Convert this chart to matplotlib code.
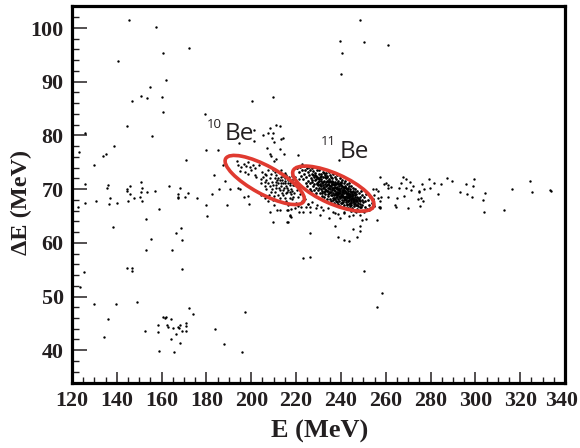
"""Delta-E versus E scatter with the 10Be and 11Be gates."""
import matplotlib
matplotlib.use("Agg")
import matplotlib.pyplot as plt
import numpy as np
from matplotlib.patches import Ellipse
from matplotlib.transforms import Affine2D

x_ticks = [120, 140, 160, 180, 200, 220, 240, 260, 280, 300, 320, 340]
y_ticks = [40, 50, 60, 70, 80, 90, 100]

# scattered events away from the two loci as (E, dE)
background = [
    (145.4, 101.5), (157.6, 100.2), (172.4, 96.3), (160.7, 95.3), (140.6, 93.9), (162.0, 90.3),
    (155.0, 89.0), (150.7, 87.3), (153.4, 87.0), (160.1, 87.2), (146.7, 86.5), (160.7, 84.3),
    (179.2, 83.9), (144.5, 81.8), (155.5, 79.8), (125.8, 80.4), (138.7, 78.0), (123.3, 76.9),
    (135.1, 76.5), (133.9, 76.1), (170.8, 75.4), (129.7, 74.5), (180.0, 77.2), (185.3, 77.2),
    (194.4, 78.5), (190.4, 76.3), (187.6, 74.5), (183.3, 72.6), (188.1, 71.6), (125.8, 70.9),
    (136.0, 70.8), (135.6, 70.2), (145.8, 70.6), (144.4, 70.0), (150.7, 71.3), (151.3, 70.2),
    (163.1, 70.5), (168.4, 70.2), (185.8, 70.0), (190.5, 70.1), (144.4, 69.7), (146.1, 69.0),
    (147.5, 68.4), (150.4, 68.5), (150.9, 69.5), (153.4, 69.5), (157.1, 69.6), (167.1, 69.0),
    (167.2, 68.6), (167.4, 68.3), (170.5, 68.6), (171.8, 69.2), (176.0, 68.3), (182.5, 69.0),
    (136.9, 68.3), (130.7, 67.7), (125.8, 67.4), (122.8, 66.7), (136.6, 67.2), (140.0, 67.4),
    (144.8, 67.8), (151.2, 67.7), (158.9, 66.3), (179.7, 67.0), (189.0, 67.0), (180.4, 65.0),
    (153.0, 64.5), (138.1, 62.9), (168.6, 62.7), (166.6, 61.8), (155.3, 60.8), (169.0, 60.5),
    (152.8, 58.7), (164.7, 58.7), (125.5, 54.6), (144.6, 55.3), (146.7, 55.4), (146.9, 54.7),
    (169.1, 55.1), (123.4, 51.8), (129.8, 48.6), (139.5, 48.7), (149.1, 49.0), (172.0, 47.9),
    (174.2, 46.8), (136.0, 45.8), (160.7, 46.2), (161.4, 46.0), (161.9, 46.2), (164.1, 45.8),
    (158.4, 44.7), (162.3, 44.7), (162.9, 44.3), (165.1, 44.2), (167.4, 44.3), (167.8, 44.1),
    (168.2, 44.7), (170.8, 45.1), (170.8, 44.5), (168.9, 43.6), (170.9, 43.5), (152.4, 43.6),
    (158.4, 43.4), (166.2, 43.1), (184.0, 44.0), (134.4, 42.5), (164.1, 42.0), (168.2, 41.4),
    (187.7, 41.2), (158.9, 39.8), (165.3, 39.6), (195.9, 39.7), (197.3, 47.1),
    (248.3, 101.5), (239.7, 97.6), (250.2, 97.4), (260.9, 96.8), (240.7, 95.4), (240.1, 91.5),
    (200.5, 86.5), (209.7, 87.2), (220.8, 76.3), (239.1, 75.4), (250.5, 54.8), (258.4, 50.6),
    (256.0, 48.1), (223.0, 57.1), (226.0, 57.4), (226.2, 61.8),
    (257.5, 72.3), (267.6, 72.2), (269.2, 71.8), (270.7, 71.4), (266.9, 71.1), (259.4, 71.0),
    (260.2, 71.1), (260.9, 70.8), (262.4, 70.4), (261.2, 70.3), (266.1, 70.3), (269.1, 70.2),
    (272.0, 70.5), (271.1, 69.8), (276.2, 70.9), (277.2, 70.1), (275.0, 69.6), (274.9, 69.4),
    (279.5, 71.8), (281.4, 71.2), (279.9, 70.3), (284.7, 70.9), (287.2, 72.1), (289.4, 71.5),
    (283.3, 69.0), (293.3, 69.5), (295.9, 71.0), (299.4, 71.8), (298.9, 70.5), (296.3, 69.0),
    (298.3, 68.5), (304.3, 69.3), (303.4, 68.0), (303.7, 65.7), (313.0, 66.2), (316.4, 70.1),
    (324.2, 71.5), (325.2, 69.5), (333.4, 69.9), (333.8, 69.6), (260.8, 68.6), (268.0, 68.8),
    (265.1, 68.4), (257.5, 67.7), (257.5, 66.6), (264.2, 67.1), (264.6, 66.7), (270.1, 66.5),
    (274.3, 68.2), (275.6, 68.3), (276.8, 67.7), (275.1, 66.9),
    (254.2, 70.0), (255.7, 70.1), (256.5, 69.6), (254.7, 68.9), (258.0, 68.6), (256.5, 68.3),
    (256.9, 66.7), (257.6, 66.4), (222.6, 74.6),
    (251.0, 64.5), (255.9, 64.2), (249.3, 64.2), (248.7, 63.2), (237.2, 63.2), (245.6, 62.6),
    (238.6, 61.1), (241.3, 60.5), (243.5, 60.3), (247.1, 61.1), (248.3, 62.2), (216.4, 63.9),
    (221.1, 65.8), (217.1, 65.0), (226.0, 65.8), (230.5, 65.2), (234.9, 64.7), (237.2, 65.5),
    (239.4, 64.7), (241.3, 65.5), (245.3, 65.2), (248.7, 65.2), (223.0, 65.8), (232.0, 66.1),
    (238.6, 65.3), (243.8, 65.0), (225.3, 67.3), (224.5, 66.7), (229.0, 66.5), (231.2, 66.7),
    (234.2, 66.4), (236.4, 65.8), (241.6, 65.8), (246.8, 65.7), (250.5, 65.8), (252.7, 66.1),
    (216.4, 66.1), (219.3, 66.4), (222.3, 66.7), (226.0, 66.7), (216.4, 67.0), (253.8, 66.4),
]

# events around and inside the 10Be gate
be10 = [
    (201.1, 81.0), (201.4, 79.0), (208.2, 81.3), (210.9, 81.9), (212.8, 81.8), (205.2, 80.1),
    (207.5, 80.4), (209.7, 80.4), (209.4, 79.5), (210.0, 78.7), (213.4, 79.3), (214.1, 79.5),
    (207.2, 77.6), (212.9, 77.4), (214.4, 76.6), (208.2, 76.5), (209.0, 76.2), (211.2, 75.7),
    (210.1, 75.2), (194.1, 70.3), (195.1, 70.0), (196.9, 68.6), (198.7, 68.8), (204.3, 68.9),
    (198.8, 67.2), (193.6, 75.3), (194.1, 74.5), (196.8, 74.7), (195.6, 74.2), (197.5, 74.3),
    (198.5, 75.1), (194.8, 73.4), (199.3, 74.2), (200.0, 73.6), (200.8, 74.5), (201.8, 73.9),
    (203.3, 74.5), (198.5, 72.9), (197.0, 73.2), (201.8, 72.7), (202.3, 72.3), (204.8, 73.2),
    (206.0, 72.9), (205.2, 72.3), (206.7, 72.6), (206.7, 71.7), (204.5, 71.8), (204.2, 71.1),
    (207.5, 71.1), (206.0, 70.6), (208.2, 70.5), (206.7, 70.0), (209.2, 70.0), (210.4, 69.5),
    (208.6, 69.4), (209.2, 71.4), (210.4, 72.0), (211.2, 72.7), (211.9, 72.1), (212.7, 73.0),
    (213.4, 73.6), (214.1, 72.5), (211.9, 71.1), (212.7, 71.7), (213.8, 71.7), (214.9, 72.0),
    (215.6, 72.6), (216.4, 71.7), (214.9, 71.1), (213.4, 70.6), (215.6, 70.6), (217.1, 70.8),
    (211.2, 70.3), (212.6, 69.8), (214.1, 69.8), (216.4, 69.8), (217.8, 70.0), (209.7, 73.6),
    (210.4, 73.1), (207.5, 73.6), (208.2, 72.1), (209.7, 70.8), (211.6, 71.7), (214.1, 71.1),
    (217.8, 71.4), (216.4, 71.1), (218.6, 70.8), (214.9, 73.0), (213.1, 72.3), (211.2, 70.8),
    (206.0, 71.4), (207.7, 68.9), (210.1, 68.7), (211.9, 68.9), (214.1, 68.9), (215.6, 69.2),
    (217.8, 69.0), (206.0, 68.3), (209.7, 68.0), (212.7, 68.3), (214.9, 68.3), (217.1, 68.3),
    (207.5, 67.8), (210.1, 67.0), (215.6, 67.8), (218.6, 68.6), (211.5, 66.2), (213.0, 66.1),
    (208.2, 65.8), (215.9, 66.1), (217.6, 66.3), (217.4, 65.2), (217.6, 64.9), (209.7, 63.8),
    (216.1, 63.8), (218.5, 71.9), (219.2, 70.7), (219.8, 71.4), (220.3, 69.9), (219.0, 69.3),
    (220.8, 68.6), (221.2, 70.4), (221.9, 69.0), (222.5, 67.8), (218.2, 68.2), (220.0, 67.5),
    (224.0, 68.2), (225.5, 67.3), (227.3, 67.6), (229.5, 67.0), (221.0, 66.9),
    (215.2, 71.5), (216.9, 72.2), (217.4, 71.1), (218.0, 72.4), (215.9, 69.5), (213.1, 71.2),
    (212.2, 70.2), (216.0, 70.2), (218.3, 69.6), (214.5, 70.3), (219.6, 72.2), (220.6, 71.2),
    (217.2, 69.4), (210.9, 71.4), (213.5, 69.2), (208.9, 72.8), (221.4, 71.9), (215.0, 72.6),
]

# the dense 11Be locus; the core is nearly solid, so these are estimates
be11 = [
    (220.6, 73.9), (221.2, 73.1), (221.9, 74.2), (222.3, 72.4), (222.8, 73.6), (223.1, 71.9),
    (223.4, 74.3), (223.7, 72.9), (224.0, 73.5), (224.2, 71.2), (224.6, 72.3), (224.9, 74.0),
    (225.0, 70.6), (225.2, 73.2), (225.4, 71.6), (225.6, 72.7), (225.9, 74.2), (226.1, 70.1),
    (226.2, 71.1), (226.4, 73.5), (226.6, 72.1), (226.8, 69.6), (227.0, 72.9), (227.1, 71.4),
    (227.3, 74.0), (227.5, 70.5), (227.7, 73.4), (227.8, 72.2), (228.0, 69.9), (228.1, 71.0),
    (228.3, 73.0), (228.4, 71.7), (228.6, 74.1), (228.8, 70.3), (229.0, 72.5), (229.1, 69.3),
    (229.3, 71.2), (229.4, 73.5), (229.6, 70.7), (229.7, 72.0), (229.9, 69.8), (230.0, 72.9),
    (230.1, 71.5), (230.3, 70.2), (230.4, 73.6), (230.6, 71.0), (230.7, 72.3), (230.8, 69.2),
    (231.0, 70.6), (231.1, 71.8), (231.2, 72.8), (231.4, 69.7), (231.5, 68.8), (231.6, 71.2),
    (231.8, 70.2), (231.9, 72.2), (232.0, 73.2), (232.2, 70.8), (232.3, 69.5), (232.4, 71.6),
    (232.6, 68.6), (232.7, 72.6), (232.8, 70.0), (233.0, 71.0), (233.1, 69.1), (233.2, 73.0),
    (233.3, 72.0), (233.4, 70.5), (233.6, 68.1), (233.7, 71.5), (233.8, 69.7), (234.0, 72.4),
    (234.1, 70.3), (234.2, 68.7), (234.4, 71.0), (234.5, 73.2), (234.6, 69.2), (234.7, 70.8),
    (234.8, 71.9), (235.0, 68.2), (235.1, 72.7), (235.2, 70.0), (235.3, 69.5), (235.5, 71.3),
    (235.6, 67.7), (235.7, 70.5), (235.8, 68.9), (235.9, 72.1), (236.0, 69.9), (236.1, 71.6),
    (236.3, 68.4), (236.4, 70.2), (236.5, 72.8), (236.6, 69.3), (236.7, 71.0), (236.8, 67.4),
    (237.0, 70.7), (237.1, 68.9), (237.2, 72.3), (237.3, 69.7), (237.4, 71.4), (237.5, 68.1),
    (237.6, 70.3), (237.7, 69.1), (237.8, 71.8), (237.9, 67.7), (238.0, 70.9), (238.1, 68.6),
    (238.2, 72.6), (238.3, 69.5), (238.4, 71.2), (238.5, 67.2), (238.6, 70.1), (238.7, 68.2),
    (238.8, 69.0), (238.9, 71.6), (239.0, 70.5), (239.1, 68.7), (239.2, 67.7), (239.3, 69.8),
    (239.4, 72.0), (239.5, 68.3), (239.6, 70.9), (239.7, 69.2), (239.8, 66.9), (239.9, 71.4),
    (240.0, 68.8), (240.1, 70.2), (240.2, 67.4), (240.3, 69.5), (240.4, 71.7), (240.5, 68.0),
    (240.6, 70.6), (240.7, 68.9), (240.8, 66.6), (241.0, 69.9), (241.1, 67.6), (241.2, 71.1),
    (241.3, 68.5), (241.4, 70.3), (241.5, 69.2), (241.6, 67.1), (241.7, 71.5), (241.8, 68.1),
    (241.9, 69.7), (242.0, 70.6), (242.1, 66.5), (242.2, 68.8), (242.3, 67.6), (242.4, 69.3),
    (242.5, 70.9), (242.6, 68.3), (242.7, 67.0), (242.8, 70.1), (243.0, 68.9), (243.1, 66.4),
    (243.2, 69.6), (243.3, 67.8), (243.4, 70.5), (243.5, 68.4), (243.6, 67.2), (243.7, 69.1),
    (243.8, 71.1), (243.9, 66.8), (244.0, 68.7), (244.1, 70.0), (244.2, 67.5), (244.3, 69.4),
    (244.4, 65.9), (244.5, 68.1), (244.6, 70.6), (244.7, 67.1), (244.8, 69.0), (245.0, 68.4),
    (245.1, 66.5), (245.2, 69.7), (245.3, 67.6), (245.5, 68.9), (245.6, 70.2), (245.7, 66.9),
    (245.9, 68.2), (246.0, 67.3), (246.1, 69.4), (246.3, 65.9), (246.4, 68.6), (246.5, 70.0),
    (246.6, 67.0), (246.8, 68.0), (246.9, 69.0), (247.0, 66.3), (247.2, 67.7), (247.4, 69.6),
    (247.5, 68.4), (247.7, 66.8), (247.9, 67.9), (248.0, 69.2), (248.2, 65.9), (248.4, 68.5),
    (248.6, 67.2), (248.8, 69.7), (249.0, 66.6), (249.2, 68.0), (249.4, 67.1), (249.6, 68.9),
    (249.8, 66.0), (250.0, 67.6), (250.3, 68.6), (250.6, 66.7), (250.9, 67.8), (251.3, 69.0),
    (251.6, 66.3), (252.0, 68.0), (252.4, 67.0), (252.8, 68.5), (253.2, 66.5), (253.7, 67.5),
    (254.2, 68.2), (254.8, 66.9),
]

# second pass over the black part of the 11Be locus
be11_core = [
    (228.3, 72.6), (229.2, 70.9), (230.2, 71.9), (229.5, 72.3), (231.3, 70.1), (230.9, 72.4),
    (232.1, 71.4), (231.7, 69.3), (232.9, 72.3), (233.5, 69.9), (233.2, 71.3), (234.3, 71.6),
    (233.9, 70.7), (234.9, 70.2), (235.4, 72.2), (234.6, 71.3), (235.7, 69.5), (236.2, 70.9),
    (235.3, 70.6), (236.9, 69.9), (236.4, 71.3), (237.3, 70.4), (237.8, 69.3), (236.2, 68.9),
    (238.1, 70.4), (237.5, 71.0), (238.6, 69.5), (238.9, 70.9), (237.9, 68.6), (239.2, 70.0),
    (239.7, 69.7), (238.4, 68.9), (240.2, 70.7), (239.5, 71.1), (240.5, 69.1), (240.9, 70.4),
    (239.1, 69.2), (241.3, 69.8), (241.7, 70.4), (240.7, 68.5), (242.1, 69.4), (241.1, 68.8),
    (242.5, 70.0), (242.9, 69.1), (241.9, 68.6), (243.3, 69.2), (242.4, 68.0), (243.7, 68.5),
    (244.1, 69.6), (243.0, 67.7), (244.5, 68.8), (244.9, 69.4), (243.8, 67.9), (245.3, 68.4),
    (245.7, 69.2), (244.3, 68.2), (246.2, 68.9), (246.6, 68.2), (245.4, 67.9), (247.1, 68.5),
    (247.6, 67.4), (246.4, 67.5), (248.1, 68.1), (248.7, 67.7), (229.9, 71.3), (231.0, 71.5),
    (232.5, 70.4), (233.6, 72.2), (234.4, 69.7), (235.9, 70.3), (236.7, 70.3), (237.2, 69.0),
    (238.3, 70.0), (239.0, 70.0), (239.9, 68.9), (240.3, 69.9), (240.8, 69.4), (241.5, 68.4),
    (242.3, 70.2), (242.7, 68.6), (243.6, 68.8), (244.0, 69.1), (244.7, 67.8), (245.1, 68.8),
    (245.9, 67.7), (246.9, 67.7), (238.7, 71.1), (240.0, 71.2), (237.0, 68.4), (239.4, 68.6),
    (241.2, 67.9), (243.1, 70.3), (235.0, 71.6), (236.0, 71.0), (233.0, 69.6), (230.5, 70.7),
    (228.9, 71.9), (227.4, 72.6), (226.9, 71.7), (232.3, 73.0), (234.1, 69.1), (236.5, 67.9),
    (238.2, 67.6), (240.6, 67.5), (242.9, 67.3), (244.6, 67.4), (247.3, 67.1), (248.3, 66.7),
]

# gates: centre in data units, axes in pixels on the page, tilt in degrees
gate_centres = [(206.0, 71.7), (236.6, 70.1)]
gate_sizes = [(89, 28), (88, 30)]
gate_tilts = [-28.6, -24]

serif = ["Liberation Serif", "DejaVu Serif"]
ink = "#231f20"

fig = plt.figure(figsize=(5.8, 4.48), dpi=100)
ax = fig.add_axes([72 / 580, 65 / 448, 493 / 580, 377 / 448])

for group, size in ((background, 3.0), (be10, 3.0), (be11, 3.8), (be11_core, 3.8)):
    pts = np.array(group)
    ax.scatter(pts[:, 0], pts[:, 1], s=size, c="black", linewidths=0, zorder=2)

ax.set_xlim(120, 339.6)
ax.set_ylim(33.9, 104.1)

ax.set_xticks(x_ticks)
ax.set_xticks(np.arange(120, 340, 5), minor=True)
ax.set_yticks(y_ticks)
ax.set_yticks(np.arange(36, 104, 2), minor=True)
ax.tick_params(which="major", direction="in", color=ink, pad=6)
ax.tick_params(which="minor", direction="in", color=ink)
ax.tick_params(axis="x", which="major", length=8, width=1.1)
ax.tick_params(axis="x", which="minor", length=4, width=1.0)
ax.tick_params(axis="y", which="major", length=10.5, width=1.1)
ax.tick_params(axis="y", which="minor", length=5, width=1.0)

for lab in ax.get_xticklabels() + ax.get_yticklabels():
    lab.set_family(serif)
    lab.set_fontweight("bold")
    lab.set_fontsize(15.8)
    lab.set_color(ink)

# the last label sits a little inside its tick so it stays on the page
last = ax.get_xticklabels()[-1]
last.set_transform(last.get_transform() + Affine2D().translate(-3, 0))

for spine in ax.spines.values():
    spine.set_linewidth(2.3)
    spine.set_color("black")

ax.set_xlabel("E (MeV)", family=serif, fontweight="bold", fontsize=19, color=ink)
ax.xaxis.set_label_coords(0.503, -0.099)
ax.set_ylabel("\u0394E (MeV)", family=serif, fontweight="bold", fontsize=17.5, color=ink)
ax.yaxis.set_label_coords(-0.081, 0.48)

# keep the gates as true tilted ellipses on the page, whatever the axis scales
for centre, size, tilt in zip(gate_centres, gate_sizes, gate_tilts):
    to_page = Affine2D().translate(*ax.transData.transform(centre))
    ax.add_patch(Ellipse((0, 0), size[0], size[1], angle=tilt, transform=to_page, fill=False,
                         edgecolor="#e03a30", linewidth=2.6, zorder=3))

sans = ["Open Sans", "DejaVu Sans"]
ax.text(180.1, 81.4, "10", family=sans, fontsize=9.5, color=ink, va="baseline", zorder=4)
ax.text(188.2, 79.1, "Be", family=sans, fontsize=17.5, color=ink, va="baseline", zorder=4)
ax.text(231.2, 78.2, "11", family=sans, fontsize=9.5, color=ink, va="baseline", zorder=4)
ax.text(239.4, 75.8, "Be", family=sans, fontsize=17.5, color=ink, va="baseline", zorder=4)

fig.savefig("out.png", dpi=100)
